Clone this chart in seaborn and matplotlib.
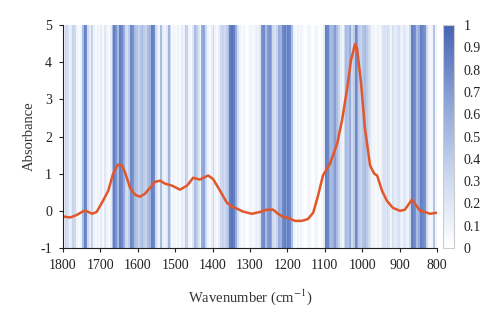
import numpy as np
import pandas as pd
import matplotlib
matplotlib.use("Agg")
import matplotlib.pyplot as plt
from matplotlib.colors import LinearSegmentedColormap
import seaborn as sns

# stripe intensities, 5 cm-1 bins from 1800 down to 800
stripe_edges = list(range(1800, 795, -5))
stripe_vals = [
    0.10, 0.30, 0.25, 0.10, 0.15, 0.35, 0.30, 0.10, 0.05, 0.10,
    0.50, 0.85, 0.80, 0.30, 0.15, 0.35, 0.10, 0.05, 0.10, 0.05,
    0.15, 0.05, 0.20, 0.10, 0.05, 0.15, 0.50, 0.85, 0.75, 0.50,
    0.85, 0.80, 0.60, 0.30, 0.25, 0.40, 0.80, 0.75, 0.50, 0.45,
    0.35, 0.45, 0.50, 0.40, 0.35, 0.50, 0.55, 0.85, 0.80, 0.30,
    0.15, 0.10, 0.50, 0.15, 0.10, 0.20, 0.55, 0.30, 0.05, 0.10,
    0.05, 0.10, 0.05, 0.15, 0.10, 0.40, 0.35, 0.10, 0.05, 0.20,
    0.50, 0.40, 0.20, 0.10, 0.60, 0.65, 0.30, 0.10, 0.05, 0.15,
    0.30, 0.10, 0.05, 0.15, 0.30, 0.35, 0.30, 0.40, 0.50, 0.85,
    0.90, 0.85, 0.60, 0.25, 0.10, 0.05, 0.10, 0.05, 0.00, 0.05,
    0.10, 0.05, 0.10, 0.15, 0.10, 0.20, 0.75, 0.80, 0.50, 0.70,
    0.75, 0.60, 0.30, 0.25, 0.35, 0.60, 0.55, 0.80, 0.85, 0.70,
    0.85, 0.80, 0.50, 0.10, 0.05, 0.10, 0.05, 0.10, 0.05, 0.00,
    0.05, 0.10, 0.05, 0.00, 0.05, 0.10, 0.05, 0.00, 0.05, 0.15,
    0.85, 0.80, 0.60, 0.50, 0.55, 0.70, 0.50, 0.35, 0.15, 0.10,
    0.30, 0.50, 0.45, 0.60, 0.30, 0.40, 0.80, 0.65, 0.40, 0.35,
    0.45, 0.50, 0.40, 0.30, 0.15, 0.05, 0.10, 0.05, 0.10, 0.05,
    0.15, 0.25, 0.20, 0.30, 0.20, 0.10, 0.25, 0.15, 0.20, 0.25,
    0.15, 0.10, 0.20, 0.15, 0.10, 0.30, 0.85, 0.80, 0.75, 0.50,
    0.60, 0.85, 0.80, 0.75, 0.30, 0.10, 0.05, 0.10, 0.45, 0.10,
]

# spectrum
wavenumber = [1800, 1795, 1781, 1763, 1746, 1736, 1722, 1710, 1693, 1679, 1666,
              1653, 1642, 1634, 1620, 1607, 1594, 1581, 1567, 1554, 1540, 1527,
              1509, 1487, 1468, 1452, 1434, 1412, 1399, 1380, 1362, 1348, 1335,
              1319, 1295, 1273, 1255, 1238, 1225, 1212, 1198, 1180, 1161, 1145,
              1131, 1118, 1105, 1086, 1067, 1054, 1041, 1030, 1019, 1014, 1003,
              993, 979, 968, 960, 947, 934, 918, 899, 886, 867, 859, 845, 827,
              819, 800]
absorbance = [-0.15, -0.16, -0.18, -0.11, -0.01, -0.01, -0.08, -0.03, 0.27, 0.54, 1.00,
              1.24, 1.22, 1.03, 0.60, 0.43, 0.38, 0.46, 0.62, 0.78, 0.81, 0.73,
              0.68, 0.57, 0.68, 0.89, 0.84, 0.95, 0.86, 0.54, 0.22, 0.11, 0.06,
              -0.02, -0.08, -0.03, 0.03, 0.03, -0.08, -0.16, -0.19, -0.27, -0.27, -0.22,
              -0.05, 0.41, 0.95, 1.27, 1.81, 2.43, 3.24, 4.05, 4.49, 4.38, 3.43,
              2.24, 1.22, 1.00, 0.95, 0.54, 0.27, 0.08, 0.00, 0.03, 0.30, 0.19, 0.00, -0.05,
              -0.08, -0.05]

x_ticks = [1800, 1700, 1600, 1500, 1400, 1300, 1200, 1100, 1000, 900, 800]
y_ticks = [-1, 0, 1, 2, 3, 4, 5]
cbar_ticks = [0, 0.1, 0.2, 0.3, 0.4, 0.5, 0.6, 0.7, 0.8, 0.9, 1]
cbar_labels = ["0", "0.1", "0.2", "0.3", "0.4", "0.5", "0.6", "0.7", "0.8", "0.9", "1"]

sns.set_style("ticks")
plt.rcParams["font.family"] = ["Liberation Serif", "DejaVu Serif"]
plt.rcParams["mathtext.fontset"] = "stix"
plt.rcParams["axes.unicode_minus"] = False

fig = plt.figure(figsize=(5, 3.25), dpi=100)
ax = fig.add_axes([0.126, 0.237, 0.748, 0.686])
cax = fig.add_axes([0.886, 0.237, 0.022, 0.686])

cmap = LinearSegmentedColormap.from_list("wb", ["#ffffff", "#c9d6ee", "#8aa2d6", "#4563b2"])
mesh = ax.pcolormesh(stripe_edges, [-1, 5], np.array(stripe_vals)[None, :],
                     cmap=cmap, vmin=0, vmax=1, shading="flat")

df = pd.DataFrame({"wavenumber": wavenumber, "absorbance": absorbance})
sns.lineplot(data=df, x="wavenumber", y="absorbance", sort=False, ax=ax,
             color="#e2572a", linewidth=1.8)
for ln in ax.get_lines():
    ln.set_solid_joinstyle("round")
    ln.set_solid_capstyle("round")

ax.set_xlim(1800, 800)
ax.set_ylim(-1, 5)
ax.set_xticks(x_ticks)
ax.set_yticks(y_ticks)
ax.set_xlabel("Wavenumber (cm$^{-1}$)", fontsize=10.5, color="#333333", labelpad=11)
ax.set_ylabel("Absorbance", fontsize=10.5, color="#333333", labelpad=3)
ax.tick_params(axis="both", labelsize=10, colors="#222222", length=3, width=0.8, pad=5)
for s in ["top", "right"]:
    ax.spines[s].set_visible(False)
for s in ["left", "bottom"]:
    ax.spines[s].set_color("#222222")
    ax.spines[s].set_linewidth(0.8)

cb = fig.colorbar(mesh, cax=cax)
cb.set_ticks(cbar_ticks)
cb.set_ticklabels(cbar_labels)
cb.outline.set_edgecolor("#cccccc")
cb.outline.set_linewidth(0.8)
cax.tick_params(labelsize=10, colors="#222222", length=0, pad=7)

fig.savefig("out.png", dpi=100)
